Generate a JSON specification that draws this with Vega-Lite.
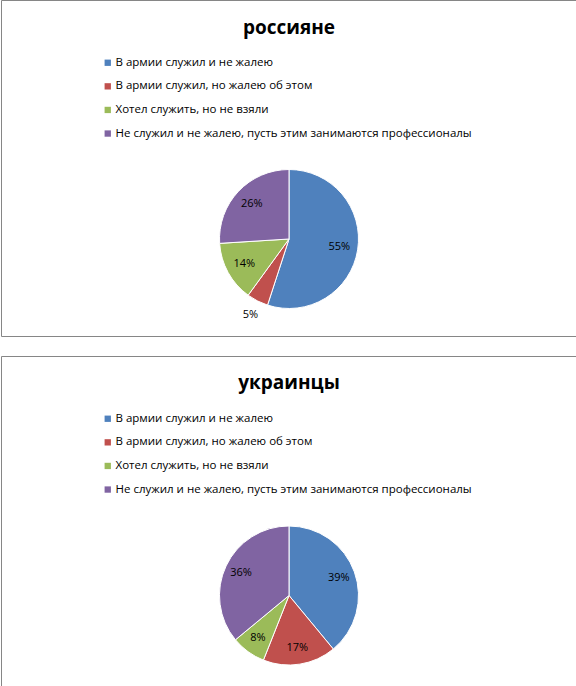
{
  "$schema": "https://vega.github.io/schema/vega-lite/v6.json",
  "padding": {"top": -1, "left": 0, "right": 0, "bottom": 0},
  "spacing": 18,
  "config": {
    "view": {"stroke": "#868686", "strokeWidth": 1},
    "font": "Open Sans",
    "text": {"font": "Open Sans"}
  },
  "datasets": {
    "d": [
      {"group": "россияне", "category": "В армии служил и не жалею", "value": 0.55, "order": 1},
      {"group": "россияне", "category": "В армии служил, но жалею об этом", "value": 0.05, "order": 2},
      {"group": "россияне", "category": "Хотел служить, но не взяли", "value": 0.14, "order": 3},
      {"group": "россияне", "category": "Не служил и не жалею, пусть этим занимаются профессионалы", "value": 0.26, "order": 4},
      {"group": "украинцы", "category": "В армии служил и не жалею", "value": 0.39, "order": 1},
      {"group": "украинцы", "category": "В армии служил, но жалею об этом", "value": 0.17, "order": 2},
      {"group": "украинцы", "category": "Хотел служить, но не взяли", "value": 0.08, "order": 3},
      {"group": "украинцы", "category": "Не служил и не жалею, пусть этим занимаются профессионалы", "value": 0.36, "order": 4}
    ]
  },
  "resolve": {"scale": {"color": "independent"}},
  "vconcat": [
    {
      "width": 576,
      "height": 336,
      "view": {"stroke": "#868686", "strokeWidth": 1, "fill": "#ffffff"},
      "title": {"text": "россияне", "offset": -31, "dy": 22, "baseline": "alphabetic", "anchor": "middle", "font": "Open Sans", "fontSize": 19, "fontWeight": "bold", "color": "#000000"},
      "data": {"name": "d"},
      "transform": [{"filter": "datum.group === 'россияне'"}],
      "layer": [
        {
          "mark": {"type": "arc", "outerRadius": 69.5, "yOffset": 71, "stroke": "#ffffff", "strokeWidth": 1},
          "encoding": {
            "theta": {"field": "value", "type": "quantitative", "stack": true},
            "order": {"field": "order", "type": "quantitative"},
            "color": {
              "field": "category", "type": "nominal",
              "scale": {
                "domain": ["В армии служил и не жалею", "В армии служил, но жалею об этом", "Хотел служить, но не взяли", "Не служил и не жалею, пусть этим занимаются профессионалы"],
                "range": ["#4F81BD", "#C0504D", "#9BBB59", "#8064A2"]
              },
              "legend": {"title": null, "orient": "none", "legendX": 101, "legendY": 57, "symbolType": "square", "symbolSize": 40, "symbolStrokeWidth": 0, "labelFont": "Open Sans", "labelFontSize": 11.5, "labelColor": "#000000", "rowPadding": 10.6, "labelOffset": 2, "labelLimit": 500, "padding": 0}
            }
          }
        },
        {
          "mark": {"type": "text", "radius": 51, "yOffset": 71, "fontSize": 11, "color": "#000000", "baseline": "middle", "align": "center"},
          "encoding": {
            "theta": {"field": "value", "type": "quantitative", "stack": true},
            "order": {"field": "order", "type": "quantitative"},
            "detail": {"field": "category", "type": "nominal"},
            "text": {"condition": {"test": "datum.value < 0.06", "value": ""}, "field": "value", "type": "quantitative", "format": ".0%"}
          }
        },
        {
          "mark": {"type": "text", "radius": 85, "yOffset": 71, "fontSize": 11, "color": "#000000", "baseline": "middle", "align": "center"},
          "encoding": {
            "theta": {"field": "value", "type": "quantitative", "stack": true},
            "order": {"field": "order", "type": "quantitative"},
            "detail": {"field": "category", "type": "nominal"},
            "text": {"condition": {"test": "datum.value >= 0.06", "value": ""}, "field": "value", "type": "quantitative", "format": ".0%"}
          }
        }
      ]
    },
    {
      "width": 576,
      "height": 335,
      "view": {"stroke": "#868686", "strokeWidth": 1, "fill": "#ffffff"},
      "title": {"text": "украинцы", "offset": -31, "dy": 21, "baseline": "alphabetic", "anchor": "middle", "font": "Open Sans", "fontSize": 19, "fontWeight": "bold", "color": "#000000"},
      "data": {"name": "d"},
      "transform": [{"filter": "datum.group === 'украинцы'"}],
      "layer": [
        {
          "mark": {"type": "arc", "outerRadius": 69.5, "yOffset": 72, "stroke": "#ffffff", "strokeWidth": 1},
          "encoding": {
            "theta": {"field": "value", "type": "quantitative", "stack": true},
            "order": {"field": "order", "type": "quantitative"},
            "color": {
              "field": "category", "type": "nominal",
              "scale": {
                "domain": ["В армии служил и не жалею", "В армии служил, но жалею об этом", "Хотел служить, но не взяли", "Не служил и не жалею, пусть этим занимаются профессионалы"],
                "range": ["#4F81BD", "#C0504D", "#9BBB59", "#8064A2"]
              },
              "legend": {"title": null, "orient": "none", "legendX": 101, "legendY": 57, "symbolType": "square", "symbolSize": 40, "symbolStrokeWidth": 0, "labelFont": "Open Sans", "labelFontSize": 11.5, "labelColor": "#000000", "rowPadding": 10.6, "labelOffset": 2, "labelLimit": 500, "padding": 0}
            }
          }
        },
        {
          "mark": {"type": "text", "radius": 53, "yOffset": 72, "fontSize": 11, "color": "#000000", "baseline": "middle", "align": "center"},
          "encoding": {
            "theta": {"field": "value", "type": "quantitative", "stack": true},
            "order": {"field": "order", "type": "quantitative"},
            "detail": {"field": "category", "type": "nominal"},
            "text": {"field": "value", "type": "quantitative", "format": ".0%"}
          }
        }
      ]
    }
  ]
}
